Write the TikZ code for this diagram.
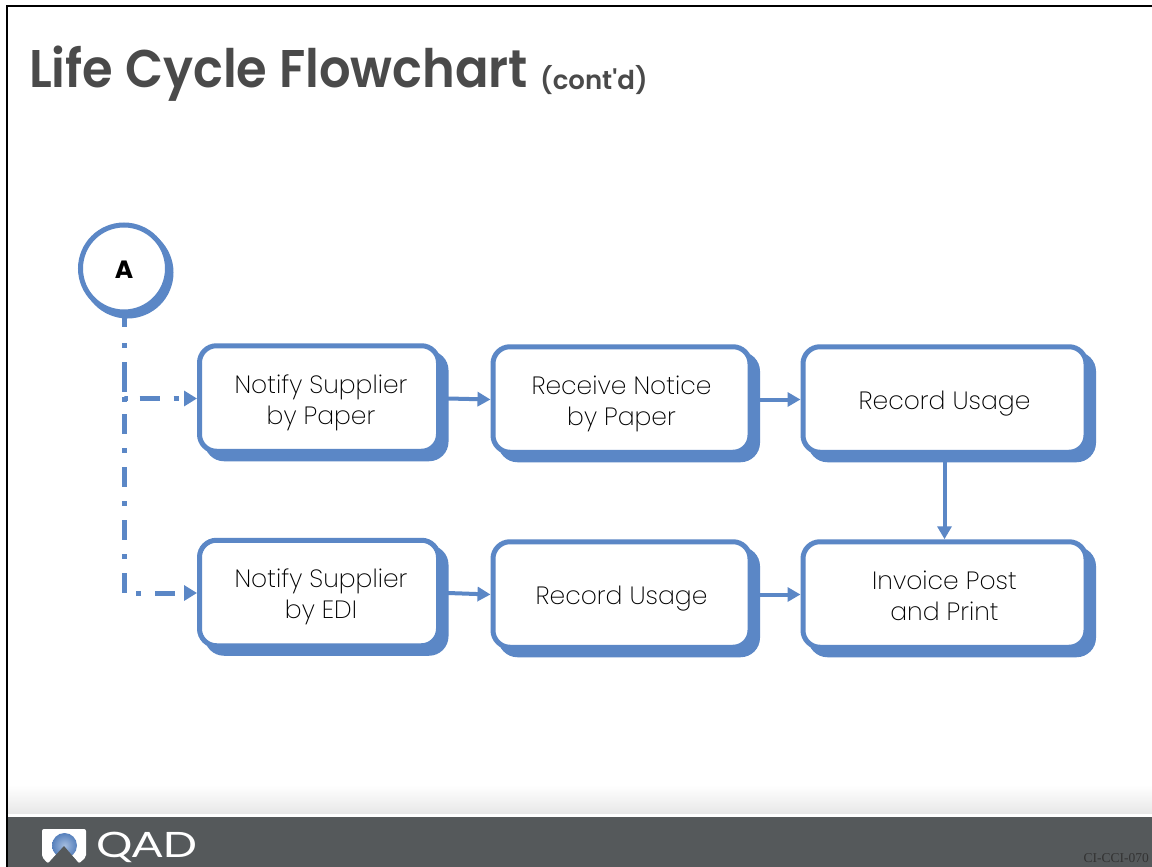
\documentclass[tikz,border=0pt]{standalone}
\usepackage{fontspec}
\setmainfont{Poppins}
\newfontfamily\bodyfont{Poppins ExtraLight}
\newfontfamily\titlefont{Poppins SemiBold}
\newfontfamily\capfont{Liberation Serif}
\newfontfamily\logofont{Lato}
\usetikzlibrary{shadows,arrows.meta,calc}
\definecolor{flow}{HTML}{5B87C6}
\definecolor{footer}{HTML}{55595B}
\definecolor{ink}{HTML}{4A4A4A}
\newcommand{\boxtext}[1]{\raisebox{-4pt}[\height][\depth]{\begin{tabular}{@{}c@{}}#1\end{tabular}}}
\tikzset{
 x=1pt,y=-1pt,
 flowbox/.style={draw=flow,line width=5pt,fill=white,rounded corners=17pt,align=center,
   font=\bodyfont\fontsize{25}{31}\selectfont,text=black,inner sep=0pt,minimum height=105.5pt,
   general shadow={shadow xshift=7.5pt,shadow yshift=-7.5pt,fill=flow,draw=flow,line width=5pt}},
 startnode/.style={circle,draw=flow,line width=5pt,fill=white,minimum size=87pt,inner sep=0pt,
   font=\bfseries\fontsize{25}{25}\selectfont,text=black,
   general shadow={shadow xshift=3.5pt,shadow yshift=-4pt,fill=flow,draw=flow,line width=5pt}},
 link/.style={draw=flow,line width=4pt,-{Triangle[length=13pt,width=14pt,fill=flow]}},
 dashbase/.style={draw=flow,line width=5pt,-{Triangle[length=13pt,width=15pt,fill=flow]}},
 dashupper/.style={dashbase,dash pattern=on 12.5pt off 16pt on 5pt off 14pt on 30pt off 5pt on 5pt off 12pt on 20pt off 14pt on 5pt off 30pt},
 dashlower/.style={dashbase,dash pattern=on 12.5pt off 16pt on 5pt off 14pt on 30pt off 5pt on 5pt off 12pt on 20pt off 14pt on 5pt off 14pt on 20pt off 14pt on 5pt off 14pt on 20pt off 14pt on 5pt off 14pt on 20pt off 12pt on 5pt off 14pt on 20pt off 30pt},
}
\begin{document}
\begin{tikzpicture}
\useasboundingbox (0,0) rectangle (1152,867);
\fill[white] (0,0) rectangle (1152,867);
% frame
\fill[black] (6,5) rectangle (1152,7);
\fill[black] (6,5) rectangle (8,867);
% footer
\shade[top color=white,bottom color=black!9] (8,785) rectangle (1152,813);
\fill[footer] (8,817) rectangle (1152,867);
% title
\node[anchor=base west,inner sep=0pt,text=ink,font=\titlefont\fontsize{53}{53}\selectfont] (title) at (29,88) {\scalebox{.935}[1]{Life Cycle Flowchart}};
\node[anchor=base west,inner sep=0pt,text=ink,font=\titlefont\fontsize{26}{26}\selectfont] (cont) at (540,90) {(cont'd)};
% nodes
\node[startnode] (A) at (124,268.5) {\raisebox{-1pt}[\height][\depth]{A}};
\node[flowbox,minimum width=239pt] (b1) at (319,398.5) {\hspace*{4pt}\boxtext{Notify Supplier\\by Paper}};
\node[flowbox,minimum width=257pt] (b2) at (621.5,399.5) {\boxtext{Receive Notice\\by Paper}};
\node[flowbox,minimum width=283pt] (b3) at (944.5,399.5) {\boxtext{Record Usage}};
\node[flowbox,minimum width=239pt] (b4) at (319,593) {\hspace*{4pt}\boxtext{Notify Supplier\\by EDI}};
\node[flowbox,minimum width=257pt] (b5) at (621.5,594.5) {\boxtext{Record Usage}};
\node[flowbox,minimum width=283pt] (b6) at (944.5,594.5) {\boxtext{Invoice Post\\and Print}};
% connectors
\draw[dashlower] (A.south) |- (b4.west);
\draw[dashupper] (A.south) |- (b1.west);
\draw[link] ([xshift=7pt]b1.east) -- (b2.west);
\draw[link] ([xshift=7pt]b2.east) -- (b3.west);
\draw[link] ([xshift=7pt]b4.east) -- (b5.west);
\draw[link] ([xshift=7pt]b5.east) -- (b6.west);
\draw[link] ([yshift=-7pt]b3.south) -- (b6.north);
% logo
\fill[white,rounded corners=2pt] (42,829) -- (86,829) -- (86,857) -- (79,863.5) -- (64,846) -- (48,863.5) -- (42,857) -- cycle;
\shade[inner color=flow!55!white,outer color=flow!95!black,] (64.5,845.5) circle (12.5);
\fill[footer] (64,846) -- (79,863.5) -- (48,863.5) -- cycle;
\node[anchor=base west,inner sep=0pt,text=white,font=\logofont\fontsize{35}{35}\selectfont] (qad) at (96,857) {\scalebox{1.3}[1]{QAD}};
\node[anchor=base east,inner sep=0pt,text=black!80,font=\capfont\fontsize{13.5}{13.5}\selectfont] (code) at (1149,862) {CI-CCI-070};
\end{tikzpicture}
\end{document}
